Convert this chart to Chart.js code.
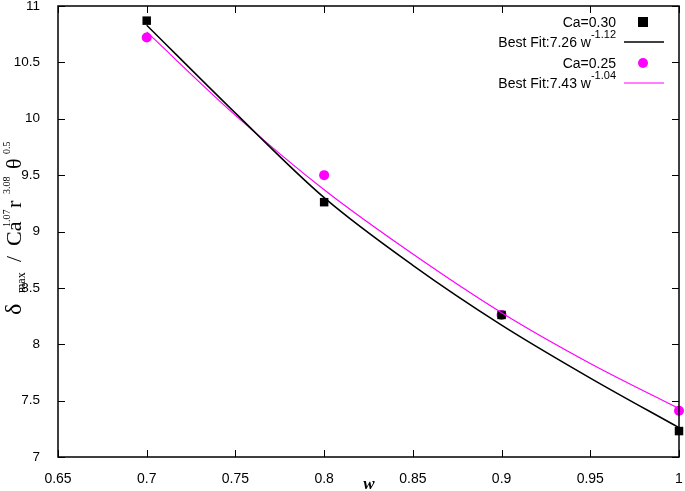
<!DOCTYPE html>
<html>
<head>
<meta charset="utf-8">
<script src="https://cdn.jsdelivr.net/npm/chart.js@4"></script>
<style>
  html, body { margin: 0; padding: 0; background: #fff; }
  #wrap { width: 685px; height: 491px; }
</style>
</head>
<body>
<div id="wrap"><canvas id="myChart"></canvas></div>
<script>
// data
const wValues = [0.7, 0.8, 0.9, 1.0];
const ca30 = [10.87, 9.26, 8.26, 7.23];
const ca25 = [10.72, 9.50, 8.26, 7.41];

const fitW = [0.7, 0.75, 0.8, 0.85, 0.9, 0.95, 1.0];
const fit30 = [10.83, 10.05, 9.30, 8.70, 8.17, 7.70, 7.26];
const fit25 = [10.77, 10.03, 9.37, 8.80, 8.28, 7.83, 7.43];

const xTicks = [0.65, 0.7, 0.75, 0.8, 0.85, 0.9, 0.95, 1];
const yTicks = [7, 7.5, 8, 8.5, 9, 9.5, 10, 10.5, 11];

const legendItems = [
  { text: 'Ca=0.30', sup: '', kind: 'square', color: '#000' },
  { text: 'Best Fit:7.26 w', sup: '-1.12', kind: 'line', color: '#000' },
  { text: 'Ca=0.25', sup: '', kind: 'circle', color: '#ff00ff' },
  { text: 'Best Fit:7.43 w', sup: '-1.04', kind: 'line', color: '#ff00ff' },
];

const toPts = (xs, ys) => xs.map((x, i) => ({ x: x, y: ys[i] }));

const sansFont = '"Liberation Sans", Arial, Helvetica, sans-serif';
const serifFont = '"Liberation Serif", "Times New Roman", serif';

// frame + inward ticks on all four sides
const framePlugin = {
  id: 'frame',
  afterDraw(chart) {
    const { ctx, chartArea: a, scales } = chart;
    ctx.save();
    ctx.strokeStyle = '#000';
    ctx.lineWidth = 1.5;
    ctx.strokeRect(a.left, a.top, a.right - a.left, a.bottom - a.top);
    ctx.lineWidth = 1;
    ctx.beginPath();
    xTicks.forEach(v => {
      const px = Math.round(scales.x.getPixelForValue(v)) + 0.5;
      ctx.moveTo(px, a.bottom); ctx.lineTo(px, a.bottom - 7);
      ctx.moveTo(px, a.top); ctx.lineTo(px, a.top + 7);
    });
    yTicks.forEach(v => {
      const py = Math.round(scales.y.getPixelForValue(v)) + 0.5;
      ctx.moveTo(a.left, py); ctx.lineTo(a.left + 7, py);
      ctx.moveTo(a.right, py); ctx.lineTo(a.right - 7, py);
    });
    ctx.stroke();
    ctx.restore();
  }
};

// legend with superscripts, drawn top-right inside the plot
const legendPlugin = {
  id: 'supLegend',
  afterDraw(chart) {
    const { ctx } = chart;
    const textRight = 616, symX = 643, lineL = 624, lineR = 664;
    const rows = [22, 42, 63, 83];
    ctx.save();
    legendItems.forEach((it, i) => {
      const y = rows[i];
      ctx.textBaseline = 'middle';
      ctx.fillStyle = '#000';
      let right = textRight;
      if (it.sup) {
        ctx.font = '11px ' + sansFont;
        const sw = ctx.measureText(it.sup).width;
        ctx.textAlign = 'left';
        ctx.fillText(it.sup, right - sw, y - 7);
        right -= sw;
      }
      ctx.font = '14px ' + sansFont;
      ctx.textAlign = 'right';
      ctx.fillText(it.text, right, y + 1);
      ctx.fillStyle = it.color;
      ctx.strokeStyle = it.color;
      if (it.kind === 'square') {
        ctx.fillRect(symX - 5, y - 5, 10, 10);
      } else if (it.kind === 'circle') {
        ctx.beginPath(); ctx.arc(symX, y, 5, 0, Math.PI * 2); ctx.fill();
      } else {
        ctx.lineWidth = it.color === '#000' ? 1.5 : 1.2;
        ctx.beginPath(); ctx.moveTo(lineL, y); ctx.lineTo(lineR, y); ctx.stroke();
      }
    });
    ctx.restore();
  }
};

// axis titles with sub/superscripts
const titlePlugin = {
  id: 'axisTitles',
  afterDraw(chart) {
    const { ctx } = chart;
    ctx.save();
    ctx.fillStyle = '#000';
    ctx.textBaseline = 'alphabetic';
    // x title
    ctx.font = 'italic bold 17px ' + serifFont;
    ctx.textAlign = 'center';
    ctx.fillText('w', 369, 489);
    // y title, rotated; pieces placed along the axis (offset from bottom end)
    const parts = [
      { t: 'δ', f: '24px', dy: 0, at: 0 },
      { t: 'max', f: '12px', dy: 4, at: 22 },
      { t: '/', f: '22px', dy: 0, at: 53 },
      { t: 'Ca', f: '22px', dy: 0, at: 69 },
      { t: '1.07', f: '10px', dy: -11, at: 88 },
      { t: 'r', f: '22px', dy: 0, at: 107 },
      { t: '3.08', f: '10px', dy: -11, at: 121 },
      { t: 'θ', f: '22px', dy: 0, at: 146 },
      { t: '0.5', f: '10px', dy: -11, at: 161 },
    ];
    ctx.translate(21, 315);
    ctx.rotate(-Math.PI / 2);
    ctx.textAlign = 'left';
    parts.forEach(p => {
      ctx.font = p.f + ' ' + serifFont;
      ctx.fillText(p.t, p.at, p.dy);
    });
    ctx.restore();
  }
};

// drop the automatic label overhang padding so the plot box keeps its place
const noOverhang = scale => {
  scale.paddingLeft = 0; scale.paddingRight = 0;
  scale.paddingTop = 0; scale.paddingBottom = 0;
};

const ctx = document.getElementById('myChart');
const myChart = new Chart(ctx, {
  type: 'scatter',
  data: {
    datasets: [
      {
        label: 'Best Fit 0.30',
        data: toPts(fitW, fit30),
        showLine: true,
        borderColor: '#000',
        borderWidth: 1.5,
        pointRadius: 0,
        cubicInterpolationMode: 'monotone',
      },
      {
        label: 'Best Fit 0.25',
        data: toPts(fitW, fit25),
        showLine: true,
        borderColor: '#ff00ff',
        borderWidth: 1.2,
        pointRadius: 0,
        cubicInterpolationMode: 'monotone',
      },
      {
        label: 'Ca=0.30',
        data: toPts(wValues, ca30),
        pointStyle: 'rect',
        pointRadius: 6,
        backgroundColor: '#000',
        borderColor: '#000',
        borderWidth: 0,
      },
      {
        label: 'Ca=0.25',
        data: toPts(wValues, ca25),
        pointStyle: 'circle',
        pointRadius: 5,
        backgroundColor: '#ff00ff',
        borderColor: '#ff00ff',
        borderWidth: 0,
      },
    ]
  },
  options: {
    responsive: true,
    maintainAspectRatio: false,
    animation: false,
    clip: false,
    layout: { padding: { top: 5, right: 5, left: 0, bottom: 0 } },
    plugins: {
      legend: { display: false },
      tooltip: { enabled: false },
    },
    scales: {
      x: {
        type: 'linear',
        min: 0.65,
        max: 1,
        afterBuildTicks: scale => { scale.ticks = xTicks.map(v => ({ value: v })); },
        afterFit: scale => { scale.height = 34; noOverhang(scale); },
        grid: { display: false },
        border: { display: false },
        ticks: {
          color: '#000',
          font: { size: 14, family: sansFont },
          padding: 6,
          maxRotation: 0,
          callback: v => String(v),
        },
      },
      y: {
        type: 'linear',
        min: 7,
        max: 11,
        afterBuildTicks: scale => { scale.ticks = yTicks.map(v => ({ value: v })); },
        afterFit: scale => { scale.width = 58; noOverhang(scale); },
        grid: { display: false },
        border: { display: false },
        ticks: {
          color: '#000',
          font: { size: 13.5, family: sansFont },
          padding: 10,
          callback: v => String(v),
        },
      },
    },
  },
  plugins: [framePlugin, legendPlugin, titlePlugin],
});
</script>
</body>
</html>
